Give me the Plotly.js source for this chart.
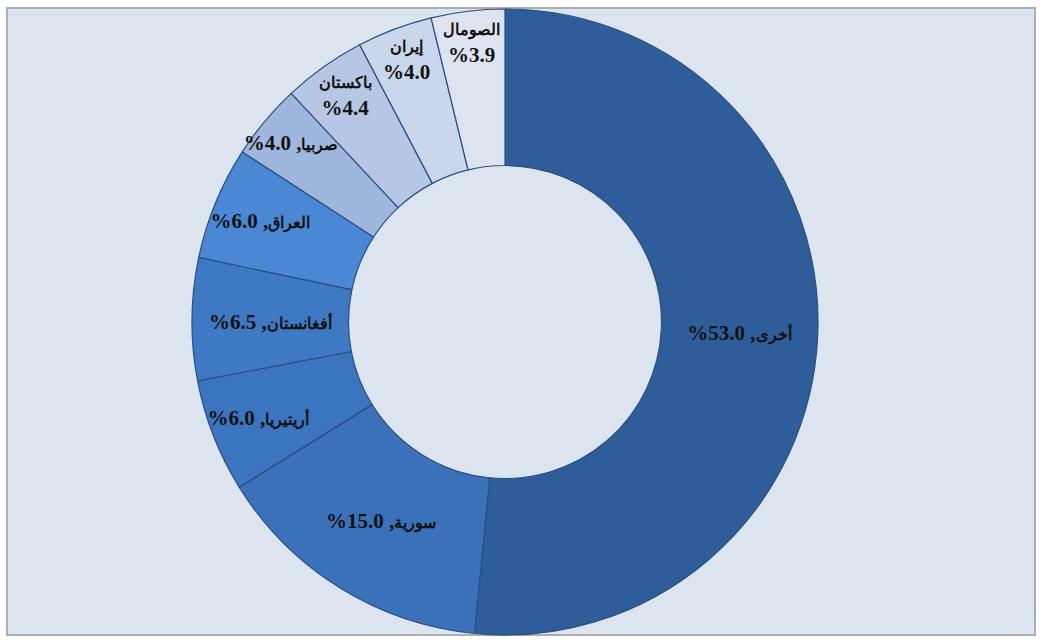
<!DOCTYPE html>
<html>
<head>
<meta charset="utf-8">
<script src="https://cdn.plot.ly/plotly-3.0.1.min.js"></script>
<style>html,body{margin:0;padding:0;background:#fff;}#chart{width:1043px;height:640px;}</style>
</head>
<body>
<div id="chart"></div>
<script>
// Data
const labels = ["أخرى", "سورية", "أريتيريا", "أفغانستان", "العراق", "صربيا", "باكستان", "إيران", "الصومال"];
const values = [53.0, 15.0, 6.0, 6.5, 6.0, 4.0, 4.4, 4.0, 3.9];
const colors = ["#2f5d9a", "#3a71b9", "#3c75bf", "#3f79c3", "#4a88d6", "#9fb7dd", "#b6c7e5", "#c9d6ec", "#dde4f0"];
const twoLine = [false, false, false, false, false, false, true, true, true];

const ar = s => '<span style="font-size:16px">' + s + '</span>';
// visual order (LTR rendering) matching the Arabic chart: "%53.0 ,أخرى"
const texts = values.map((v, i) => twoLine[i]
  ? ar(labels[i]) + "<br>%" + v.toFixed(1)
  : "%" + v.toFixed(1) + " ," + ar(labels[i]));

const W = 1043, H = 640;
const cx = 505, cy = 322, R = 313;

const trace = {
  type: "pie",
  labels: labels,
  values: values,
  text: texts,
  texttemplate: "%{text}",
  textinfo: "text",
  textposition: "inside",
  insidetextorientation: "horizontal",
  sort: false,
  direction: "clockwise",
  rotation: 0,
  hole: 0.5,
  marker: { colors: colors, line: { color: "#2b4f7e", width: 1.2 } },
  textfont: { family: "Liberation Serif, DejaVu Serif, serif", size: 21, color: "#111111", weight: "bold" },
  domain: { x: [(cx - R) / W, (cx + R) / W], y: [(H - (cy + R)) / H, (H - (cy - R)) / H] },
  showlegend: false,
  hoverinfo: "label+value"
};

const layout = {
  width: W, height: H,
  margin: { l: 0, r: 0, t: 0, b: 0 },
  paper_bgcolor: "#ffffff",
  uniformtext: { minsize: 21, mode: "show" },
  shapes: [{
    type: "rect", xref: "paper", yref: "paper", layer: "below",
    x0: 7 / W, x1: 1035 / W, y0: (H - 635) / H, y1: (H - 8) / H,
    fillcolor: "#dce5ef", line: { color: "#a9aeb3", width: 2 }
  }]
};

Plotly.newPlot("chart", [trace], layout, { displayModeBar: false, staticPlot: true });
</script>
</body>
</html>
